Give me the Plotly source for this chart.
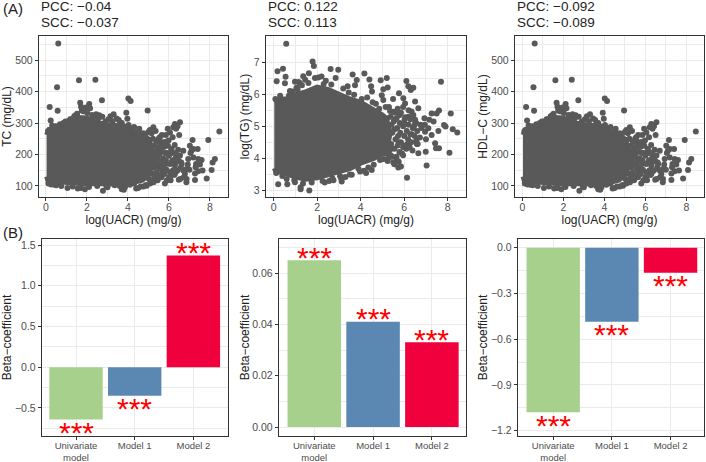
import plotly.graph_objects as go

W, H = 706, 462
GREY = "#595959"
GRID = "#ebebeb"
BORDER = "#333333"
TICK = "#4d4d4d"
FONT = "Liberation Sans"

# ---------- data: scatter panels (TC and HDL-C panels look identical) ----------
uacr_tc_points = [0.6,0.54,1.61,2.41,0.57,0.18,0.23,2.73,4.02,4.13,4.96,3.92,3.97,4.03,1.67,1.71,2.11,1.95,2.15,1.75,1.85,
    8.46,7.92,6.54,6.29,6.21,6.5,6.18,5.94,5.24,5.07,7.15,7.02,7.4,7.19,7.1,7.59,7.51,8.24,8.13,8.08,7.84,7.27,7.64,7.43,7.27,
    6.86,6.78,6.86,6.7,6.94,7.19,7.43,6.7,6.54,6.29,6.29,5.8,5.64,6.05,4.91,4.5,6.35,6.42,6.05,5.85,5.55,5.35,5.72,5.98,6.12,
    5.62,5.48,5.78,5.92,6.15,6.33,6.48,6.62,6.45,6.58,6.25,6.02,5.75,5.58,5.42,5.9,6.08,6.38,6.55,5.68,5.85,6.15,6.72,6.85,6.6,
    7.05,7.3,7.32,7.0,6.92,5.5,5.3,5.15,5.2,5.35,4.75,4.4,4.3,3.85,3.8,3.7,3.0,2.78,1.9,1.55,1.05,0.5,0.25,0.18,
    2.6,2.75,3.15,3.3,3.45,3.55,3.7,2.45,2.35,1.45,1.25,1.05,0.85,0.7,4.3,4.55,4.75,5.0,5.15,
    0.1,0.3,0.48,0.68,0.95,1.18,1.38,1.52,1.82,2.02,2.25,2.55,2.9,3.05,3.25,3.62,3.78,4.12,4.42,4.65,4.85,
    0.12,0.4,0.75,1.3,1.7,2.1,2.5,2.95,3.35,3.6,4.1,4.62,4.88,5.08,5.25,5.45,5.02,5.28,5.12,
    5.05,5.1,5.12,5.08,5.15,5.05,5.22,5.28,5.25,5.32,5.28,5.38,5.42,5.45,5.4,5.38,5.5,5.55,5.52,5.6,5.55,5.65,5.68,5.72,5.7,
    5.8,5.82,5.85,5.88,5.78,5.95,6.0,6.05,6.02,6.12,6.18,6.2,6.28,6.32,6.4,6.42,6.48]
tc_points = [553,414,436,438,339,351,308,373,378,370,340,333,314,294,365,352,361,350,347,340,338,
    273,246,303,297,287,262,255,282,287,278,246,228,218,218,212,183,168,186,175,151,124,119,149,147,140,
    154,138,122,149,186,191,186,212,197,165,138,108,128,144,101,94,282,290,270,262,255,275,232,245,218,
    240,222,225,205,205,190,180,170,215,160,135,128,142,172,195,118,118,148,122,145,170,178,128,112,175,
    205,160,170,152,168,135,120,140,172,210,98,92,108,96,88,90,96,85,90,92,94,102,105,118,
    325,320,322,328,315,310,300,328,320,325,312,305,300,288,288,282,268,272,268,
    275,292,290,296,305,312,322,330,338,332,326,315,305,312,306,302,290,284,272,266,258,
    108,104,100,98,94,97,100,99,102,100,104,98,103,108,112,118,122,128,116,
    245,225,205,185,165,148,250,228,196,178,158,240,212,190,165,142,250,225,200,178,155,262,210,188,160,
    240,205,182,152,138,228,196,170,128,215,182,150,230,205,178,150,120]
dense_uacr_tc = [0.03,0.15,0.45,0.8,1.2,1.6,2.0,2.45,3.0,3.5,4.0,4.5,5.0,5.15,5.22,5.2,5.0,4.7,4.2,3.8,3.2,2.6,2.0,1.4,0.9,0.45,0.1,0.03]
dense_tc = [262,280,280,296,308,318,316,302,296,292,280,266,250,225,195,170,135,118,108,104,106,108,106,108,112,116,116,130]

uacr_tg_points = [0.58,1.79,1.85,0.18,0.43,0.55,0.14,0.52,2.62,2.97,1.62,1.36,0.98,1.21,3.63,4.17,4.4,4.92,5.2,3.82,3.74,4.48,4.52,5.24,5.04,4.97,5.04,
    5.49,5.76,5.96,6.04,6.1,6.19,6.42,6.3,7.69,6.5,6.65,7.26,7.49,7.6,8.14,7.83,7.9,8.23,8.44,8.08,6.99,6.65,7.03,5.73,6.13,7.42,7.46,7.6,7.57,7.26,6.96,7.11,
    6.93,6.34,5.24,5.5,4.89,4.51,3.97,3.59,3.13,3.16,0.21,0.63,0.6,0.98,1.24,1.24,1.64,2.35,2.55,2.75,3.1,3.3,3.5,3.9,4.15,4.35,4.6,
    5.55,5.8,6.0,6.2,6.45,6.6,6.8,6.72,6.55,6.35,6.1,5.9,5.65,5.4,5.75,6.25,6.5,6.95,7.15,7.35,7.0,6.75,6.5,6.2,5.95,5.7,5.5,5.3,5.95,5.65,
    1.05,1.45,1.9,2.2,1.15,0.75,2.05,2.4,2.85,3.4,
    0.08,0.3,0.7,0.88,1.1,1.3,1.6,2.3,2.65,3.2,3.45,3.7,4.05,4.3,4.55,4.7,4.85,5.15,5.35,5.6,5.85,6.05,6.28,6.4,
    5.2,5.45,5.75,5.95,6.15,6.38,6.58,5.05,5.3,5.55,5.85,0.12,0.4,0.95,1.35,1.75,2.25,2.7,3.05,4.25,
    5.05,5.1,5.12,5.08,5.15,5.22,5.28,5.25,5.32,5.38,5.42,5.45,5.4,5.38,5.52,5.55,5.6,5.55,5.65,5.68,5.72,5.7,5.8,5.82,5.85,5.78,
    5.95,6.0,6.05,6.02,6.12,6.18,6.2,6.28,6.32,6.4,6.42,6.48,6.55,6.62]
tg_points = [7.57,7.02,6.88,6.71,6.79,6.54,6.4,6.34,6.78,6.76,6.65,6.56,6.39,6.34,6.61,6.64,6.46,6.43,6.5,6.44,6.28,6.25,6.08,6.21,6.15,5.97,5.82,
    5.85,6.03,5.87,5.71,6.41,6.25,6.2,6.13,6.39,5.77,5.56,5.4,5.4,5.49,5.4,5.04,4.99,4.91,4.81,4.18,4.21,4.16,3.78,3.72,3.4,4.47,4.32,4.32,4.85,4.73,4.83,4.94,
    5.25,5.46,3.92,3.87,3.95,3.64,3.59,3.49,3.28,3.4,3.2,3.2,3.36,3.26,3.1,3.04,3.0,3.25,3.3,3.32,3.38,3.42,3.5,3.68,3.62,3.72,3.8,
    5.2,5.35,5.1,5.3,5.0,4.85,4.95,4.65,4.55,4.75,4.3,4.15,4.05,4.3,4.5,4.35,5.1,5.05,5.2,5.15,4.6,5.05,5.2,5.5,5.6,5.55,5.45,5.6,4.1,3.95,
    6.2,6.45,6.5,6.55,6.38,6.1,6.52,6.42,6.5,6.25,
    5.85,5.95,5.95,6.08,6.15,6.28,6.35,6.32,6.3,6.18,6.05,5.98,5.85,5.9,5.75,5.7,5.55,5.6,5.48,5.42,5.42,5.28,5.22,4.95,
    4.2,4.05,3.9,4.35,4.45,4.25,4.45,3.98,4.02,3.82,3.75,3.55,3.45,3.32,3.22,3.25,3.3,3.38,3.45,3.55,
    5.3,5.0,4.7,4.4,4.15,5.25,4.9,4.55,4.25,5.3,5.05,4.8,4.45,4.1,5.15,4.9,4.6,4.3,5.25,4.95,4.7,4.4,5.1,4.8,4.5,4.2,
    5.0,4.7,4.4,5.2,4.85,4.6,5.05,4.75,4.5,4.95,5.35,4.7,5.1,4.45]
dense_uacr_tg = [0.03,0.25,0.6,1.0,1.5,2.0,2.5,3.0,3.5,4.0,4.5,5.0,5.2,5.35,5.25,5.0,4.6,4.0,3.5,3.0,2.5,2.0,1.5,1.0,0.5,0.1,0.03]
dense_tg = [5.75,5.85,5.85,5.98,6.08,6.22,6.15,5.98,5.85,5.75,5.55,5.35,5.2,4.8,4.4,4.15,4.0,3.85,3.68,3.58,3.48,3.4,3.35,3.42,3.55,3.6,3.7]

# ---------- data: bars ----------
models = ["Univariate<br>model", "Model 1", "Model 2"]
beta_tc = [-0.64, -0.35, 1.37]
beta_tg = [0.065, 0.041, 0.033]
beta_hdl = [-1.08, -0.485, -0.165]
bar_colors = ["#A8D08D", "#5B88B2", "#F0003C"]
significance = ["***", "***", "***"]

fig = go.Figure()

def axis_name(i):
    return "" if i == 1 else str(i)

def frame(i, box, xrange, yrange, xtitle, ytitle, xopts, yopts, tick_size, ystand):
    l, r, t, b = box
    n = axis_name(i)
    common = dict(showline=True, mirror=True, linecolor=BORDER, linewidth=1.4, showgrid=True, gridcolor=GRID, gridwidth=1,
                  zeroline=False, ticks="outside", ticklen=3, tickwidth=1, tickcolor=BORDER, automargin=False)
    fig.update_layout(**{
        "xaxis" + n: dict(common, domain=[l / W, r / W], range=xrange, anchor="y" + n,
                          tickfont=dict(size=tick_size, color=TICK, family=FONT), ticklabelstandoff=-3,
                          title=dict(text=xtitle, font=dict(size=12, color="#222222", family=FONT), standoff=0), **xopts),
        "yaxis" + n: dict(common, domain=[1 - b / H, 1 - t / H], range=yrange, anchor="x" + n,
                          tickfont=dict(size=10.5, color=TICK, family=FONT),
                          title=dict(text=ytitle, font=dict(size=12, color="#222222", family=FONT), standoff=ystand), **yopts),
    })

def scatter(i, xs, ys, dx, dy):
    n = axis_name(i)
    fig.add_trace(go.Scatter(x=dx, y=dy, mode="lines", fill="toself", fillcolor=GREY,
                             line=dict(color=GREY, width=5), xaxis="x" + n, yaxis="y" + n, hoverinfo="skip", showlegend=False))
    fig.add_trace(go.Scatter(x=xs, y=ys, mode="markers", marker=dict(color=GREY, size=6, line=dict(width=0)),
                             xaxis="x" + n, yaxis="y" + n, showlegend=False))

def bars(i, vals, shift_up, shift_down):
    n = axis_name(i)
    fig.add_trace(go.Bar(x=[0, 1, 2], y=vals, width=0.91, marker=dict(color=bar_colors, line=dict(width=0)),
                         xaxis="x" + n, yaxis="y" + n, showlegend=False))
    for k, v in enumerate(vals):
        fig.add_annotation(x=k, y=v, xref="x" + n, yref="y" + n, text=significance[k], showarrow=False,
                           font=dict(size=30, color="#FF0000", family=FONT), yanchor="middle",
                           yshift=shift_up if v > 0 else shift_down)

minor_x = dict(minor=dict(dtick=1, showgrid=True, gridcolor=GRID, gridwidth=0.6))
sx = dict(tickmode="array", tickvals=[0, 2, 4, 6, 8], **minor_x)
tc_y = dict(tickmode="array", tickvals=[100, 200, 300, 400, 500], minor=dict(dtick=50, showgrid=True, gridcolor=GRID, gridwidth=0.6))
tg_y = dict(tickmode="array", tickvals=[3, 4, 5, 6, 7], minor=dict(dtick=0.5, showgrid=True, gridcolor=GRID, gridwidth=0.6))
bx = dict(tickmode="array", tickvals=[0, 1, 2], ticktext=models)

frame(1, (39, 228, 36, 197), [-0.34, 8.88], [65, 577], "log(UACR) (mg/g)", "TC (mg/dL)", sx, tc_y, 10.5, 3)
scatter(1, uacr_tc_points, tc_points, dense_uacr_tc, dense_tc)
frame(2, (266, 466, 36, 197), [-0.35, 8.84], [2.80, 7.81], "log(UACR) (mg/g)", "log(TG) (mg/dL)", sx, tg_y, 10.5, 1)
scatter(2, uacr_tg_points, tg_points, dense_uacr_tg, dense_tg)
frame(3, (515, 704, 36, 197), [-0.36, 8.86], [65, 577], "log(UACR) (mg/g)", "HDL\u2212C (mg/dL)", sx, tc_y, 10.5, 0)
scatter(3, uacr_tc_points, tc_points, dense_uacr_tc, dense_tc)

frame(4, (42, 228, 239, 436), [-0.58, 2.59], [-0.844, 1.574], "", "Beta\u2212coefficient", bx,
      dict(tickmode="array", tickvals=[-0.5, 0, 0.5, 1, 1.5], tickformat=".1f", minor=dict(dtick=0.25, showgrid=True, gridcolor=GRID, gridwidth=0.6)), 9.5, 3)
bars(4, beta_tc, 3, -13)
frame(5, (279, 466, 239, 436), [-0.6, 2.58], [-0.0035, 0.0733], "", "Beta\u2212coefficient", bx,
      dict(tickmode="array", tickvals=[0, 0.02, 0.04, 0.06], tickformat=".2f", minor=dict(dtick=0.01, showgrid=True, gridcolor=GRID, gridwidth=0.6)), 9.5, 0)
bars(5, beta_tg, 3, -13)
frame(6, (518, 704, 239, 436), [-0.6, 2.57], [-1.235, 0.057], "", "Beta\u2212coefficient", bx,
      dict(tickmode="array", tickvals=[-1.2, -0.9, -0.6, -0.3, 0], tickformat=".1f", minor=dict(dtick=0.15, showgrid=True, gridcolor=GRID, gridwidth=0.6)), 9.5, 0)
bars(6, beta_hdl, 3, -13)

def label(text, x, y, size):
    fig.add_annotation(text=text, x=x / W, y=1 - y / H, xref="paper", yref="paper", xanchor="left", yanchor="middle",
                       showarrow=False, font=dict(size=size, color="#222222", family=FONT), align="left")

label("(A)", 1, 9, 15)
label("(B)", 1, 232, 15)
label("PCC: \u22120.04", 39, 7, 13.5)
label("SCC: \u22120.037", 39, 22, 13.5)
label("PCC: 0.122", 266, 7, 13.5)
label("SCC: 0.113", 266, 22, 13.5)
label("PCC: \u22120.092", 515, 7, 13.5)
label("SCC: \u22120.089", 515, 22, 13.5)

fig.update_layout(width=W, height=H, margin=dict(l=0, r=0, t=0, b=0), paper_bgcolor="white", plot_bgcolor="white",
                  showlegend=False, font=dict(family=FONT))
fig.write_html("out.html", config=dict(displayModeBar=False),
               post_script="document.body.style.margin='0';document.body.style.overflow='hidden';")
